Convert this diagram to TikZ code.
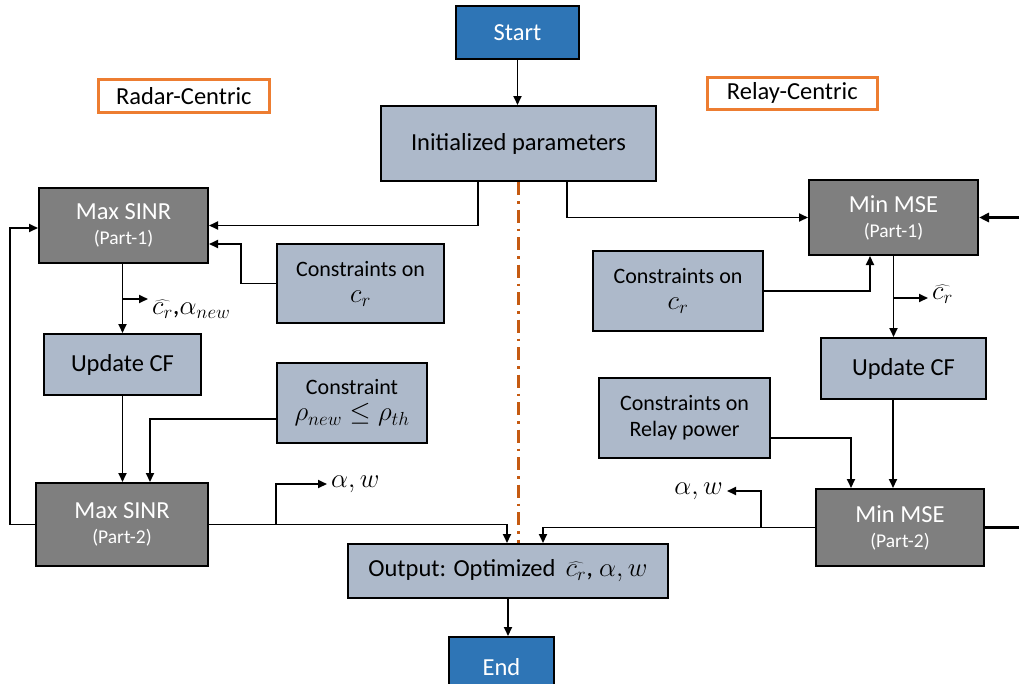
\RequirePackage{fix-cm}
\documentclass[tikz,border=0pt]{standalone}
\usepackage{fontspec}
\setmainfont{Carlito}
\usetikzlibrary{arrows.meta}
\definecolor{cblue}{HTML}{2E75B6}
\definecolor{cgray}{HTML}{7F7F7F}
\definecolor{clight}{HTML}{ADB9CA}
\definecolor{corange}{HTML}{ED7D31}
\definecolor{cdash}{HTML}{C55A11}
\newcommand\myBig{\fontsize{24.5}{29}\selectfont}
\newcommand\myMid{\fontsize{22}{26}\selectfont}
\newcommand\mySmall{\fontsize{19.5}{23}\selectfont}
\newcommand\myMath{\fontsize{27}{31}\selectfont}
\tikzset{
  box/.style={draw=black, line width=2pt, inner sep=0pt, anchor=north west, align=center, font=\myBig},
  bluebox/.style={box, fill=cblue, text=white},
  lightbox/.style={box, fill=clight, text=black},
  graybox/.style={box, fill=cgray, text=white},
  tagbox/.style={box, draw=corange, line width=2.6pt, fill=white},
  lbl/.style={inner sep=4pt, font=\myMath},
  arr/.style={line width=1.8pt, -{Triangle[length=9pt,width=8pt]}},
  thickarr/.style={line width=2.8pt, -{Triangle[length=10pt,width=9pt]}},
  thickline/.style={line width=2.8pt},
  dashdot/.style={draw=cdash, line width=2.4pt, dash pattern=on 13pt off 6pt on 2.5pt off 6pt},
}
\begin{document}
\begin{tikzpicture}[x=1pt,y=-1pt]
\useasboundingbox (0,0) rectangle (1019,683);
% nodes
\node[bluebox, minimum width=123, minimum height=53] (Start) at (455,5) {Start};
\node[lightbox, minimum width=275, minimum height=75] (Init) at (380,105) {Initialized parameters};
\node[tagbox, minimum width=171, minimum height=33] (Radar) at (97,78) {Radar-Centric};
\node[tagbox, minimum width=170, minimum height=32] (Relay) at (706,76) {Relay-Centric};
\node[graybox, minimum width=169, minimum height=75] (MS1) at (38,187) {Max SINR\\[-4pt]{\mySmall (Part-1)}};
\node[lightbox, font=\myMid, minimum width=167, minimum height=79] (CL) at (276,243) {Constraints on\\{\myMath$c_r$}};
\node[lightbox, minimum width=157, minimum height=61] (UCL) at (43,333) {Update CF};
\node[lightbox, font=\myMid, minimum width=150, minimum height=80] (CR) at (276,362) {Constraint\\{\myMath$\rho_{new}\leq\rho_{th}$}};
\node[graybox, minimum width=172, minimum height=83] (MS2) at (35,482) {Max SINR\\[-4pt]{\mySmall (Part-2)}};
\node[lightbox, minimum width=320, minimum height=54] (Out) at (347,543) {Output: Optimized {\myMath$\,\widehat{c_r}$, $\alpha, w$}};
\node[bluebox, minimum width=105, minimum height=60] (End) at (448,636) {End};
\node[graybox, minimum width=169, minimum height=75] (MM1) at (808,179) {Min MSE\\[-4pt]{\mySmall (Part-1)}};
\node[lightbox, font=\myMid, minimum width=170, minimum height=80] (CRt) at (592,250) {Constraints on\\{\myMath$c_r$}};
\node[lightbox, minimum width=165, minimum height=61] (UCR) at (820,337) {Update CF};
\node[lightbox, font=\myMid, minimum width=171, minimum height=80] (RP) at (598,377) {Constraints on\\Relay power};
\node[graybox, minimum width=168, minimum height=77] (MM2) at (815,488) {Min MSE\\[-4pt]{\mySmall (Part-2)}};
% labels
\node[lbl, anchor=west] (l1) at (148,309) {$\widehat{c_r}$,$\alpha_{new}$};
\node[lbl, anchor=west] (l2) at (327,484) {$\alpha, w$};
\node[lbl, anchor=west] (l3) at (928,294) {$\widehat{c_r}$};
\node[lbl, anchor=east] (l4) at (727,491) {$\alpha, w$};
% branch coordinates
\coordinate (b1) at (122,299);
\coordinate (b2) at (276,523.5);
\coordinate (b3) at (893,298);
\coordinate (b4) at (761,526.5);
\coordinate (e1) at (MM1.east -| 1025,0);
\coordinate (e2) at (MM2.east -| 1025,0);
% divider
\draw[dashdot] (Init.south) -- (Init.south |- Out.north);
% connectors
\draw[arr] (Start.south) -- (Start.south |- Init.north);
\draw[arr] ([xshift=98pt]Init.south west) |- (MS1.east);
\draw[arr] ([xshift=187pt]Init.south west) |- (MM1.west);
\draw[arr] (CL.west) -- ++(-35,0) |- ([yshift=-18.5pt]MS1.east);
\draw[arr] (UCL.north |- MS1.south) -- (UCL.north);
\draw[arr] (b1) -- (b1 -| l1.west);
\draw[arr] (UCL.south) -- (UCL.south |- MS2.north);
\draw[arr] ([yshift=-16pt]CR.west) -| ([xshift=115pt]MS2.north west);
\draw[arr] (MS2.west) -- ++(-25,0) |- ([yshift=-2.5pt]MS1.west);
\draw[arr] (MS2.east) -| ([xshift=160pt]Out.north west);
\draw[arr] (b2) |- (l2.west);
\draw[arr] (Out.south) -- (Out.south |- End.north);
\draw[arr] (MM1.south) -- (MM1.south |- UCR.north);
\draw[arr] (b3) -- (b3 -| l3.west);
\draw[arr] (CRt.east) -| ([xshift=-23.5pt]MM1.south);
\draw[thickarr] (e1) -- (MM1.east);
\draw[arr] ([xshift=-10.5pt]UCR.south) -- ([xshift=-10.5pt]UCR.south |- MM2.north);
\draw[arr] ([yshift=-20pt]RP.east) -| ([xshift=-49pt]MM2.north);
\draw[arr] (MM2.west) -| ([xshift=196pt]Out.north west);
\draw[arr] (b4) |- (l4.east);
\draw[thickline] (MM2.east) -- (e2);
\end{tikzpicture}
\end{document}
